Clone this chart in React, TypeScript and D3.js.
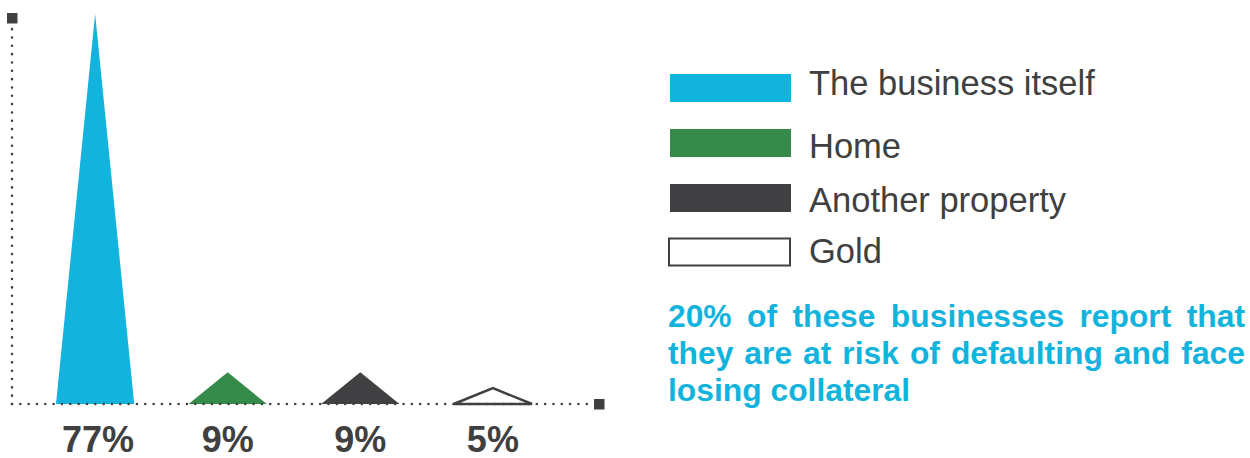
import React, { useLayoutEffect, useRef } from "react";
import * as d3 from "d3";

const categories = ["The business itself", "Home", "Another property", "Gold"];
const values = [77, 9, 9, 5];
const valueLabels = ["77%", "9%", "9%", "5%"];
const colors = ["#12B3DC", "#368A4A", "#414042", "none"];
const annotationLines = [
  "20% of these businesses report that",
  "they are at risk of defaulting and face",
  "losing collateral",
];

const W = 1250;
const H = 458;
const FONT = "'Liberation Sans', Arial, Helvetica, sans-serif";
const DARK = "#404040";
const BLUE = "#12B3DC";

function JustifiedText({ text, x, y, width, justify }: { text: string; x: number; y: number; width: number; justify: boolean }) {
  const ref = useRef<SVGTextElement>(null);
  useLayoutEffect(() => {
    const el = ref.current;
    if (!el || !justify) return;
    el.setAttribute("word-spacing", "0");
    const natural = el.getComputedTextLength();
    const spaces = text.split(" ").length - 1;
    if (spaces > 0) el.setAttribute("word-spacing", String((width - natural) / spaces));
  }, [text, width, justify]);
  return (
    <text ref={ref} x={x} y={y} fill={BLUE} fontFamily={FONT} fontWeight="bold" fontSize={31.8}>
      {text}
    </text>
  );
}

export default function App() {
  const baseY = 404;
  const axisX = 12;
  const xScale = d3.scaleBand<string>().domain(categories).range([56, 532]).paddingInner(0.41).paddingOuter(0);
  const yScale = d3.scalePow().exponent(1.17).domain([0, 77]).range([baseY, 14]);
  const bw = xScale.bandwidth();

  const legendY = d3.scaleOrdinal<string, number>().domain(categories).range([88, 143, 198, 252]);
  const legendBaselines = [95, 158, 212, 263];

  return (
    <svg width={W} height={H} style={{ position: "absolute", left: 0, top: 0 }}>
      <rect width={W} height={H} fill="#fff" />
      {categories.map((c, i) => {
        const x0 = xScale(c)!;
        const pts: [number, number][] = [
          [x0, baseY],
          [x0 + bw / 2, yScale(values[i])],
          [x0 + bw, baseY],
        ];
        const path = d3.line()(pts)! + "Z";
        return colors[i] === "none" ? (
          <path key={c} d={path} fill="#fff" stroke={DARK} strokeWidth={2.5} strokeLinejoin="miter" />
        ) : (
          <path key={c} d={path} fill={colors[i]} />
        );
      })}
      {/* axes */}
      <line x1={axisX} y1={baseY} x2={axisX} y2={26.7} stroke={DARK} strokeWidth={2.6} strokeLinecap="round" strokeDasharray="0 8.33" />
      <line x1={axisX} y1={baseY} x2={594} y2={baseY} stroke={DARK} strokeWidth={2.6} strokeLinecap="round" strokeDasharray="0 8.33" />
      <rect x={7} y={13} width={10.5} height={10.5} fill={DARK} />
      <rect x={594} y={399} width={10.5} height={10.5} fill={DARK} />
      {categories.map((c, i) => (
        <text key={c} x={xScale(c)! + bw / 2 + (i === 0 ? 3 : 0)} y={451.5} textAnchor="middle" fill={DARK} fontFamily={FONT} fontWeight="bold" fontSize={36}>
          {valueLabels[i]}
        </text>
      ))}
      {/* legend */}
      {categories.map((c, i) => {
        const cy = legendY(c);
        return (
          <g key={c}>
            {colors[i] === "none" ? (
              <rect x={669} y={cy - 13.5} width={121} height={27} fill="#fff" stroke={DARK} strokeWidth={2} />
            ) : (
              <rect x={670} y={cy - 14} width={121} height={28} fill={colors[i]} />
            )}
            <text x={809} y={legendBaselines[i]} fill={DARK} fontFamily={FONT} fontSize={34.5}>
              {c}
            </text>
          </g>
        );
      })}
      {annotationLines.map((t, i) => (
        <JustifiedText key={i} text={t} x={668} y={327 + i * 37} width={577} justify={i < annotationLines.length - 1} />
      ))}
    </svg>
  );
}
